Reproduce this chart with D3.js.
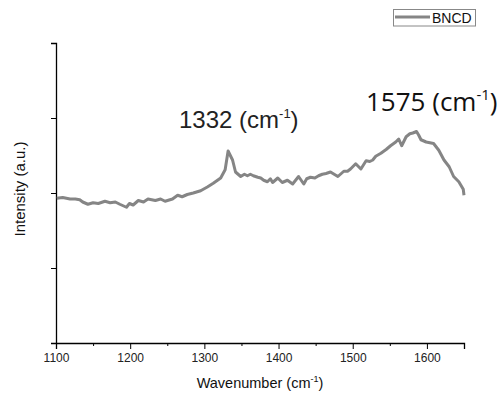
<!DOCTYPE html>
<html><head><meta charset="utf-8">
<script src="https://cdn.jsdelivr.net/npm/d3@7"></script>
<style>body{margin:0;background:#fff}svg{display:block}</style>
</head><body>
<svg id="c" width="501" height="396"></svg>
<script>
const wavenumber = [1101,1109,1119,1126,1132,1136,1143,1150,1157,1166,1173,1180,1186,1195,1199,1204,1211,1218,1224,1234,1241,1247,1257,1264,1270,1277,1285,1295,1304,1312,1322,1328,1332,1338,1342,1349,1354,1358,1362,1366,1372,1376,1380,1385,1389,1392,1399,1405,1412,1419,1423,1427,1434,1438,1443,1449,1454,1459,1464,1470,1480,1488,1493,1497,1504,1511,1518,1523,1527,1531,1538,1545,1551,1558,1562,1566,1572,1577,1581,1586,1589,1592,1599,1609,1616,1623,1630,1636,1643,1649,1650];
const intensity = [1.93,1.94,1.92,1.92,1.91,1.88,1.85,1.87,1.86,1.89,1.87,1.88,1.85,1.81,1.86,1.84,1.90,1.88,1.92,1.90,1.92,1.89,1.92,1.97,1.95,1.98,2.00,2.03,2.08,2.13,2.20,2.31,2.56,2.44,2.28,2.22,2.25,2.23,2.25,2.23,2.21,2.20,2.17,2.15,2.19,2.14,2.20,2.14,2.17,2.12,2.17,2.22,2.12,2.19,2.21,2.20,2.23,2.25,2.26,2.28,2.22,2.29,2.29,2.32,2.39,2.32,2.43,2.42,2.44,2.49,2.53,2.58,2.63,2.68,2.72,2.63,2.75,2.79,2.80,2.82,2.77,2.71,2.68,2.66,2.57,2.44,2.35,2.22,2.15,2.05,1.97];
const xTicks = [1100,1200,1300,1400,1500,1600];
const xMinorTicks = [1150,1250,1350,1450,1550,1650];
const yTicks = [0,1,2,3,4];
const seriesName = "BNCD";
const peakLabels = ["1332", "1575"];

const ARIAL = "'Liberation Sans', Arial, sans-serif";
const svg = d3.select("#c");
const x = d3.scaleLinear().domain([1100,1650]).range([56,464]);
const y = d3.scaleLinear().domain([0,4]).range([343,43]);

// axes
const xAxis = svg.append("g").attr("transform","translate(0,343)")
  .call(d3.axisBottom(x).tickValues(xTicks).tickSize(6).tickPadding(4).tickFormat(d3.format("d")));
svg.append("g").attr("transform","translate(0,343)")
  .call(d3.axisBottom(x).tickValues(xMinorTicks).tickSize(3).tickFormat(""))
  .select(".domain").remove();
svg.append("g").attr("transform","translate(56,0)")
  .call(d3.axisLeft(y).tickValues(yTicks).tickSize(5).tickFormat(""));
svg.selectAll(".domain").attr("stroke","#000").attr("stroke-width",1.3);
svg.selectAll(".tick line").attr("stroke","#000").attr("stroke-width",1);
xAxis.selectAll(".tick text").attr("font-family",ARIAL)
  .attr("font-size",12).attr("fill","#222");

// line
const data = wavenumber.map((w,i)=>({w, v:intensity[i]}));
svg.append("path").datum(data)
  .attr("fill","none").attr("stroke","#858585").attr("stroke-width",3)
  .attr("stroke-linejoin","round")
  .attr("d", d3.line().x(d=>x(d.w)).y(d=>y(d.v)));

// axis labels
const xl = svg.append("text").attr("x",260).attr("y",388).attr("text-anchor","middle")
  .attr("font-family",ARIAL).attr("font-size",14.5).attr("fill","#111");
xl.append("tspan").text("Wavenumber (cm");
xl.append("tspan").attr("dy",-6).attr("font-size",9).text("-1");
xl.append("tspan").attr("dy",6).text(")");

svg.append("text").attr("transform","translate(25,189) rotate(-90)").attr("text-anchor","middle")
  .attr("font-family",ARIAL).attr("font-size",15).attr("fill","#111")
  .text("Intensity (a.u.)");

// annotations
const a1 = svg.append("text").attr("x",179).attr("y",128)
  .attr("font-family",ARIAL).attr("font-size",24).attr("fill","#222");
a1.append("tspan").text(peakLabels[0] + " (cm");
a1.append("tspan").attr("dy",-10).attr("font-size",13).text("-1");
a1.append("tspan").attr("dy",10).text(")");

const a2 = svg.append("text").attr("x",366).attr("y",111)
  .attr("font-family","'Open Sans', Lato, sans-serif").attr("font-size",26).attr("fill","#111");
a2.append("tspan").text(peakLabels[1] + " (cm");
a2.append("tspan").attr("dy",-11).attr("font-size",15).text("-1");
a2.append("tspan").attr("dy",11).text(")");

// legend
svg.append("rect").attr("x",393.5).attr("y",9.5).attr("width",82).attr("height",16.5)
  .attr("fill","#fff").attr("stroke","#888").attr("stroke-width",1);
svg.append("line").attr("x1",395).attr("x2",430).attr("y1",17).attr("y2",17)
  .attr("stroke","#858585").attr("stroke-width",3);
svg.append("text").attr("x",432).attr("y",22.5)
  .attr("font-family",ARIAL).attr("font-size",14).attr("fill","#111")
  .text(seriesName);
</script>
</body></html>
